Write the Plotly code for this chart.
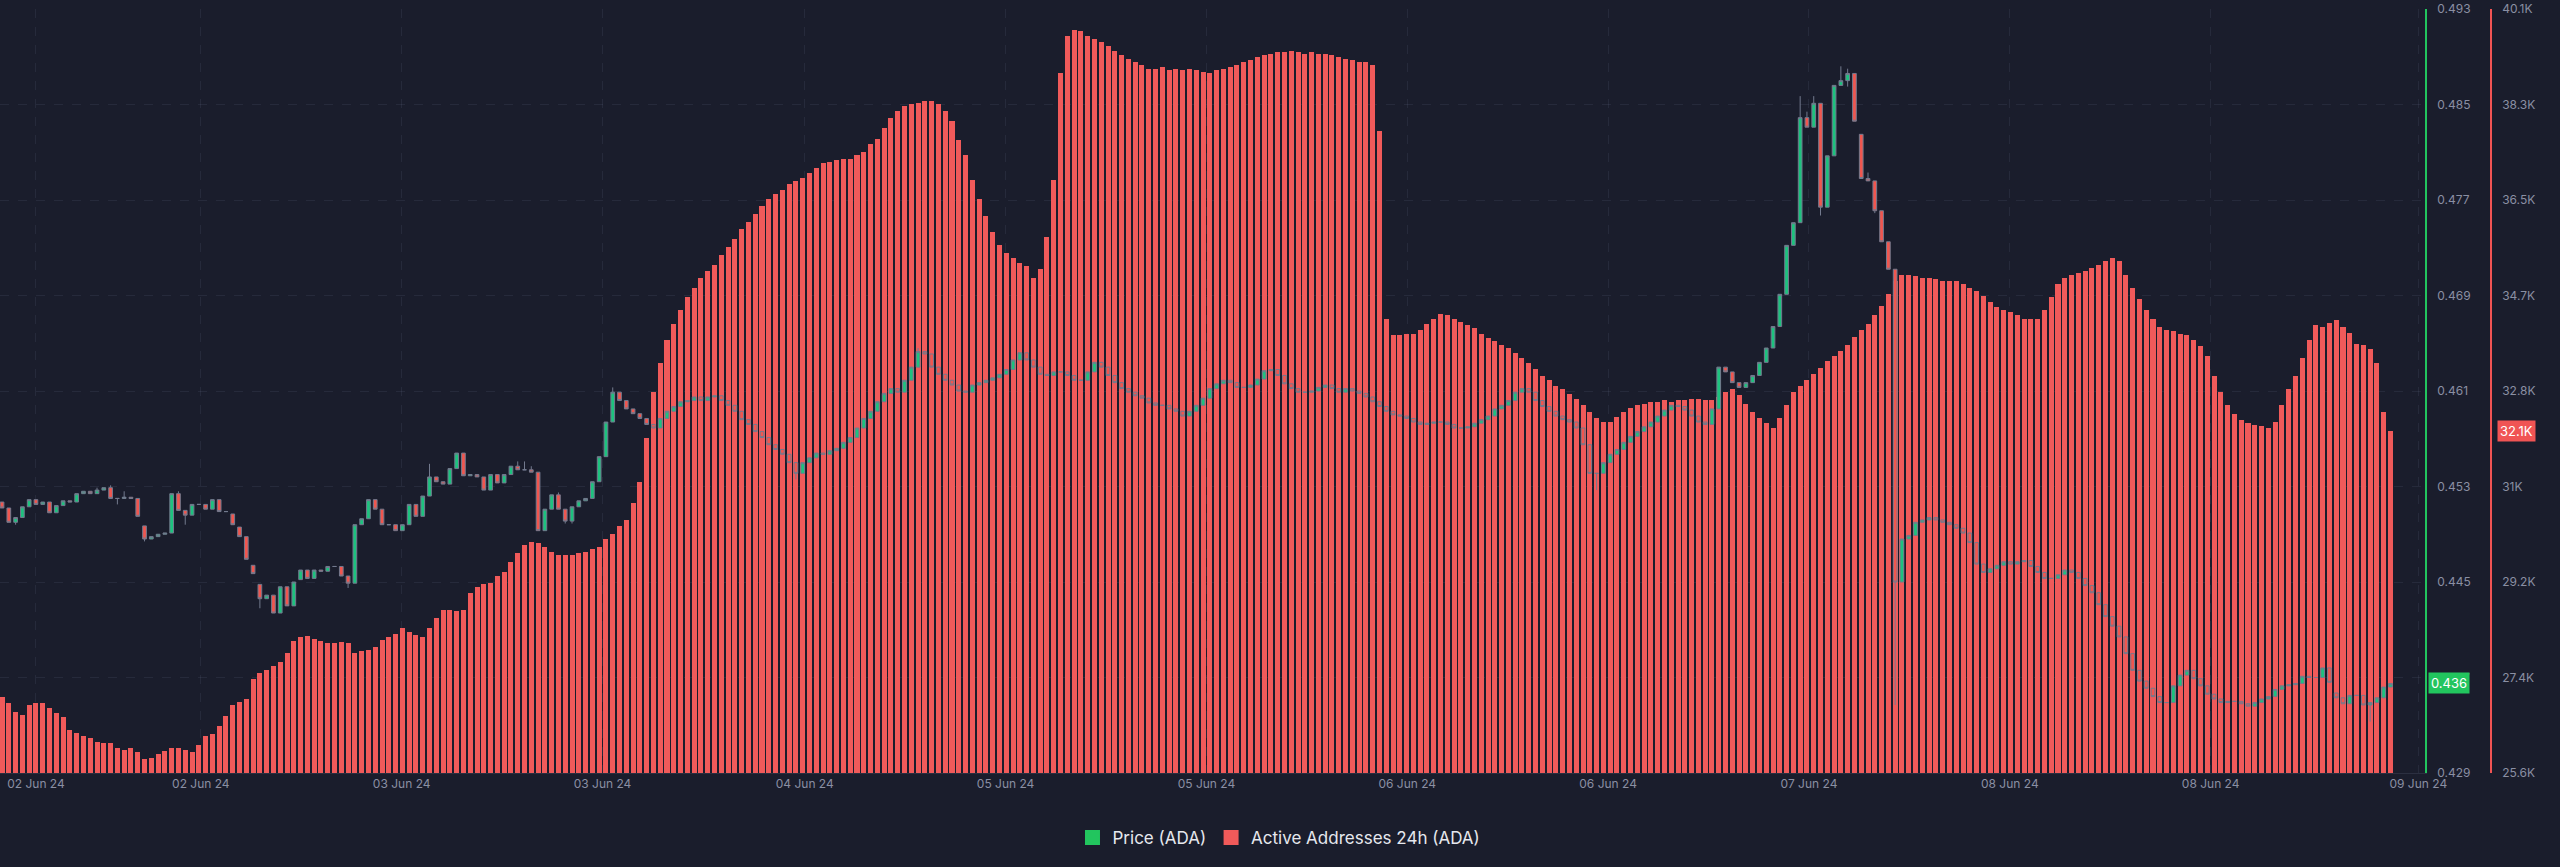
import plotly.graph_objects as go

# ---------------- DATA ----------------
# Price (ADA) candle closes, one per 30-min slot (open = previous close unless overridden)
first_open = 0.4517
close = [
    0.4512, 0.4500, 0.4504, 0.4513, 0.4519, 0.4515, 0.4517, 0.4508, 0.4514, 0.4518,
    0.4517, 0.4524, 0.4526, 0.4524, 0.4527, 0.4529, 0.4520, 0.4520, 0.4521, 0.4520,
    0.4505, 0.4486, 0.4488, 0.4490, 0.4491, 0.4524, 0.4510, 0.4506, 0.4515, 0.4515,
    0.4511, 0.4519, 0.4509, 0.4509, 0.4498, 0.4488, 0.4469, 0.4457, 0.4436, 0.4439,
    0.4424, 0.4446, 0.4430, 0.4450, 0.4460, 0.4453, 0.4460, 0.4459, 0.4463, 0.4463,
    0.4455, 0.4449, 0.4498, 0.4503, 0.4519, 0.4511, 0.4498, 0.4498, 0.4493, 0.4498,
    0.4515, 0.4505, 0.4522, 0.4538, 0.4534, 0.4532, 0.4545, 0.4558, 0.4539, 0.4540,
    0.4538, 0.4527, 0.4540, 0.4533, 0.4540, 0.4547, 0.4544, 0.4544, 0.4542, 0.4493,
    0.4511, 0.4523, 0.4511, 0.4501, 0.4513, 0.4518, 0.4520, 0.4534, 0.4555, 0.4584,
    0.4609, 0.4602, 0.4595, 0.4591, 0.4587, 0.4582, 0.4579, 0.4587, 0.4593, 0.4597,
    0.4601, 0.4602, 0.4605, 0.4602, 0.4605, 0.4606, 0.4602, 0.4598, 0.4593, 0.4586,
    0.4582, 0.4576, 0.4571, 0.4565, 0.4561, 0.4557, 0.4550, 0.4541, 0.4550, 0.4554,
    0.4558, 0.4557, 0.4560, 0.4562, 0.4567, 0.4571, 0.4579, 0.4587, 0.4593, 0.4601,
    0.4608, 0.4612, 0.4609, 0.4619, 0.4630, 0.4643, 0.4641, 0.4630, 0.4624, 0.4619,
    0.4615, 0.4610, 0.4609, 0.4615, 0.4617, 0.4619, 0.4621, 0.4624, 0.4628, 0.4636,
    0.4642, 0.4636, 0.4630, 0.4624, 0.4623, 0.4626, 0.4626, 0.4623, 0.4619, 0.4619,
    0.4626, 0.4634, 0.4630, 0.4623, 0.4617, 0.4612, 0.4609, 0.4606, 0.4604, 0.4600,
    0.4598, 0.4598, 0.4595, 0.4593, 0.4589, 0.4593, 0.4598, 0.4604, 0.4612, 0.4616,
    0.4619, 0.4617, 0.4613, 0.4613, 0.4615, 0.4620, 0.4627, 0.4628, 0.4623, 0.4616,
    0.4612, 0.4609, 0.4609, 0.4610, 0.4613, 0.4615, 0.4612, 0.4609, 0.4612, 0.4610,
    0.4608, 0.4605, 0.4601, 0.4597, 0.4593, 0.4590, 0.4589, 0.4587, 0.4584, 0.4582,
    0.4583, 0.4584, 0.4584, 0.4582, 0.4579, 0.4579, 0.4580, 0.4583, 0.4586, 0.4589,
    0.4595, 0.4598, 0.4602, 0.4609, 0.4612, 0.4609, 0.4602, 0.4597, 0.4593, 0.4589,
    0.4586, 0.4584, 0.4579, 0.4565, 0.4541, 0.4541, 0.4550, 0.4557, 0.4561, 0.4567,
    0.4572, 0.4576, 0.4580, 0.4584, 0.4589, 0.4594, 0.4598, 0.4597, 0.4594, 0.4589,
    0.4584, 0.4582, 0.4595, 0.4630, 0.4626, 0.4617, 0.4613, 0.4617, 0.4623, 0.4634,
    0.4646, 0.4664, 0.4691, 0.4732, 0.4751, 0.4839, 0.4831, 0.4851, 0.4764, 0.4807,
    0.4866, 0.4870, 0.4876, 0.4836, 0.4788, 0.4786, 0.4761, 0.4735, 0.4712, 0.4450,
    0.4486, 0.4489, 0.4500, 0.4502, 0.4504, 0.4502, 0.4500, 0.4498, 0.4495, 0.4491,
    0.4483, 0.4465, 0.4458, 0.4461, 0.4464, 0.4467, 0.4465, 0.4467, 0.4468, 0.4463,
    0.4458, 0.4453, 0.4453, 0.4456, 0.4460, 0.4458, 0.4453, 0.4447, 0.4441, 0.4431,
    0.4421, 0.4413, 0.4404, 0.4390, 0.4376, 0.4367, 0.4361, 0.4354, 0.4349, 0.4349,
    0.4363, 0.4372, 0.4376, 0.4369, 0.4363, 0.4356, 0.4352, 0.4349, 0.4350, 0.4350,
    0.4348, 0.4346, 0.4349, 0.4352, 0.4354, 0.4360, 0.4363, 0.4364, 0.4365, 0.4371,
    0.4370, 0.4370, 0.4378, 0.4366, 0.4353, 0.4348, 0.4355, 0.4355, 0.4347, 0.4349,
    0.4353, 0.4362, 0.4365,
]
# opens that gap away from the previous close
open_override = {21: 0.4497, 34: 0.4507, 35: 0.4496, 37: 0.4464, 38: 0.4448, 44: 0.4452,
                 274: 0.4825, 344: 0.4357}
# visible wick extremes
wick_high = {14: 0.4529, 16: 0.4531, 18: 0.4526, 26: 0.4526, 63: 0.4549, 76: 0.4551,
             77: 0.4551, 78: 0.4547, 82: 0.4525, 90: 0.4613, 135: 0.4646, 265: 0.4857,
             266: 0.4844, 267: 0.4857, 271: 0.4882, 272: 0.4880, 273: 0.4873, 275: 0.4793}
wick_low = {2: 0.4498, 17: 0.4515, 21: 0.4484, 27: 0.4498, 38: 0.4428, 51: 0.4445,
            83: 0.4499, 84: 0.4499, 117: 0.4536, 235: 0.4527, 268: 0.4757, 269: 0.4778,
            272: 0.4865, 276: 0.4759, 279: 0.4347, 349: 0.4333}

# Active Addresses 24h (ADA), thousands, one per slot
active_k = [
    27.05, 26.93, 26.76, 26.70, 26.89, 26.93, 26.93, 26.83, 26.74, 26.66,
    26.42, 26.36, 26.30, 26.26, 26.19, 26.17, 26.17, 26.08, 26.04, 26.08,
    26.00, 25.87, 25.89, 25.96, 26.02, 26.08, 26.08, 26.04, 26.00, 26.13,
    26.30, 26.34, 26.49, 26.68, 26.89, 26.95, 27.00, 27.38, 27.50, 27.56,
    27.63, 27.71, 27.88, 28.11, 28.18, 28.20, 28.14, 28.11, 28.07, 28.07,
    28.09, 28.07, 27.88, 27.92, 27.93, 27.99, 28.12, 28.18, 28.24, 28.35,
    28.28, 28.22, 28.18, 28.35, 28.54, 28.69, 28.69, 28.67, 28.69, 29.02,
    29.13, 29.19, 29.21, 29.34, 29.42, 29.60, 29.78, 29.93, 29.98, 29.97,
    29.89, 29.79, 29.74, 29.74, 29.74, 29.78, 29.79, 29.85, 29.89, 30.04,
    30.13, 30.28, 30.41, 30.72, 31.12, 31.96, 32.83, 33.39, 33.82, 34.13,
    34.38, 34.63, 34.81, 35.00, 35.12, 35.25, 35.43, 35.59, 35.74, 35.93,
    36.05, 36.21, 36.36, 36.49, 36.58, 36.67, 36.77, 36.83, 36.89, 36.99,
    37.08, 37.17, 37.20, 37.23, 37.26, 37.26, 37.33, 37.39, 37.54, 37.64,
    37.85, 38.04, 38.16, 38.26, 38.29, 38.32, 38.35, 38.35, 38.29, 38.16,
    37.98, 37.61, 37.33, 36.86, 36.49, 36.18, 35.87, 35.62, 35.47, 35.37,
    35.28, 35.22, 35.00, 35.16, 35.77, 36.86, 38.88, 39.59, 39.71, 39.68,
    39.59, 39.53, 39.47, 39.40, 39.31, 39.22, 39.16, 39.09, 39.03, 38.97,
    38.97, 39.00, 38.94, 38.97, 38.94, 38.97, 38.94, 38.91, 38.88, 38.94,
    38.97, 39.00, 39.03, 39.09, 39.13, 39.19, 39.22, 39.25, 39.28, 39.28,
    39.31, 39.28, 39.25, 39.28, 39.25, 39.25, 39.22, 39.19, 39.16, 39.13,
    39.09, 39.09, 39.03, 37.79, 34.22, 33.91, 33.91, 33.94, 33.94, 34.01,
    34.13, 34.22, 34.32, 34.29, 34.22, 34.16, 34.10, 34.04, 33.94, 33.85,
    33.79, 33.73, 33.67, 33.57, 33.48, 33.39, 33.26, 33.14, 33.05, 32.95,
    32.89, 32.80, 32.70, 32.58, 32.46, 32.33, 32.27, 32.27, 32.36, 32.46,
    32.52, 32.58, 32.61, 32.64, 32.64, 32.67, 32.64, 32.67, 32.67, 32.70,
    32.70, 32.67, 32.67, 32.74, 32.83, 32.89, 32.77, 32.61, 32.46, 32.33,
    32.24, 32.15, 32.33, 32.58, 32.83, 32.95, 33.05, 33.17, 33.29, 33.42,
    33.51, 33.60, 33.73, 33.88, 34.01, 34.13, 34.29, 34.47, 34.69, 34.94,
    35.06, 35.06, 35.03, 35.00, 35.00, 34.97, 34.94, 34.94, 34.94, 34.88,
    34.81, 34.75, 34.66, 34.53, 34.44, 34.38, 34.35, 34.29, 34.22, 34.22,
    34.22, 34.38, 34.63, 34.88, 35.00, 35.06, 35.09, 35.12, 35.19, 35.25,
    35.31, 35.37, 35.31, 35.06, 34.81, 34.60, 34.38, 34.22, 34.07, 34.01,
    33.98, 33.94, 33.91, 33.82, 33.70, 33.51, 33.14, 32.83, 32.58, 32.42,
    32.30, 32.24, 32.21, 32.18, 32.15, 32.27, 32.58, 32.89, 33.14, 33.48,
    33.82, 34.10, 34.07, 34.14, 34.20, 34.07, 33.95, 33.74, 33.72, 33.65,
    33.38, 32.45, 32.09,
]

x_tick_pos = [5.0, 29.3, 58.9, 88.5, 118.3, 147.9, 177.5, 207.1, 236.7, 266.3, 295.9, 325.5, 356.1]
x_tick_text = ["02 Jun 24", "02 Jun 24", "03 Jun 24", "03 Jun 24", "04 Jun 24", "05 Jun 24",
               "05 Jun 24", "06 Jun 24", "06 Jun 24", "07 Jun 24", "08 Jun 24", "08 Jun 24",
               "09 Jun 24"]
price_ticks = [0.429, 0.437, 0.445, 0.453, 0.461, 0.469, 0.477, 0.485, 0.493]
price_tick_text = ["0.429", "0.437", "0.445", "0.453", "0.461", "0.469", "0.477", "0.485", "0.493"]
addr_ticks = [25600, 27412.5, 29225, 31037.5, 32850, 34662.5, 36475, 38287.5, 40100]
addr_tick_text = ["25.6K", "27.4K", "29.2K", "31K", "32.8K", "34.7K", "36.5K", "38.3K", "40.1K"]
last_price_label = "0.436"
last_addr_label = "32.1K"

# ---------------- BUILD ----------------
n = len(close)
xs = list(range(n))
opens = [first_open] + close[:-1]
for k, v in open_override.items():
    opens[k] = v
highs = [max(o, c) for o, c in zip(opens, close)]
lows = [min(o, c) for o, c in zip(opens, close)]
for k, v in wick_high.items():
    highs[k] = max(highs[k], v)
for k, v in wick_low.items():
    lows[k] = min(lows[k], v)
active = [v * 1000 for v in active_k]

BG = "#1a1d2c"
GREEN = "#22c55e"
CANDLE_G = "#1dc27e"
CANDLE_R = "#f0564f"
RED = "#f05a5a"
TICK = "#8a8fa3"
WICK = "#737a8e"
FONT = "Inter"

fig = go.Figure()
fig.add_trace(go.Bar(
    x=xs, y=active, width=0.74, yaxis="y",
    marker=dict(color=RED, line=dict(width=0)),
    showlegend=False, hoverinfo="skip",
))
fig.add_trace(go.Candlestick(
    x=xs, open=opens, high=highs, low=lows, close=close, yaxis="y2",
    increasing=dict(fillcolor=CANDLE_G, line=dict(color=WICK, width=1)),
    decreasing=dict(fillcolor=CANDLE_R, line=dict(color=WICK, width=1)),
    whiskerwidth=0, showlegend=False, hoverinfo="skip",
))
# legend entries
fig.add_trace(go.Scatter(x=[None], y=[None], mode="markers", name="Price (ADA)",
                         marker=dict(symbol="square", size=15, color=GREEN)))
fig.add_trace(go.Scatter(x=[None], y=[None], mode="markers", name="Active Addresses 24h (ADA)",
                         marker=dict(symbol="square", size=15, color=RED)))

PLOT_W = 2540
fig.update_layout(
    width=2560, height=867,
    margin=dict(l=0, r=20, t=9, b=94),
    paper_bgcolor=BG, plot_bgcolor=BG,
    font=dict(family=FONT, color=TICK, size=12),
    bargap=0, boxgap=0.22,
    showlegend=True,
    legend=dict(orientation="h", x=1280 / PLOT_W, xanchor="center", y=-0.085, yanchor="middle",
                font=dict(size=17, color="#e6e8ee", family=FONT), bgcolor="rgba(0,0,0,0)",
                itemsizing="trace", itemwidth=30, tracegroupgap=0),
    xaxis=dict(
        domain=[0, 2427 / PLOT_W], range=[-0.3, 357.1],
        tickvals=x_tick_pos, ticktext=x_tick_text, tickfont=dict(size=12, color=TICK),
        showgrid=True, gridcolor="rgba(120,130,160,0.13)", griddash="dash", gridwidth=1,
        showline=True, linecolor="#2b2f40", zeroline=False, ticks="",
        rangeslider=dict(visible=False), fixedrange=True,
    ),
    yaxis=dict(
        side="right", anchor="free", position=2493 / PLOT_W,
        range=[25600, 40100], tickvals=addr_ticks, ticktext=addr_tick_text,
        tickfont=dict(size=12, color=TICK),
        showline=True, linecolor="#f05454", linewidth=1.5,
        showgrid=True, gridcolor="rgba(120,130,160,0.13)", griddash="dash",
        zeroline=False, ticks="", ticklabelstandoff=8,
    ),
    yaxis2=dict(
        overlaying="y", side="right", anchor="x",
        range=[0.429, 0.493], tickvals=price_ticks, ticktext=price_tick_text,
        tickfont=dict(size=12, color=TICK),
        showline=True, linecolor=GREEN, linewidth=1.5,
        showgrid=False, zeroline=False, ticks="", ticklabelstandoff=8,
    ),
    annotations=[
        dict(xref="paper", yref="y2", x=2451 / PLOT_W, y=close[-1], text=last_price_label,
             showarrow=False, bgcolor=GREEN, font=dict(color="white", size=13, family=FONT),
             borderpad=2, xanchor="center", yanchor="middle"),
        dict(xref="paper", yref="y", x=2518 / PLOT_W, y=active[-1], text=last_addr_label,
             showarrow=False, bgcolor="#f05454", font=dict(color="white", size=13, family=FONT),
             borderpad=2, xanchor="center", yanchor="middle"),
    ],
)

fig.write_html("out.html")
